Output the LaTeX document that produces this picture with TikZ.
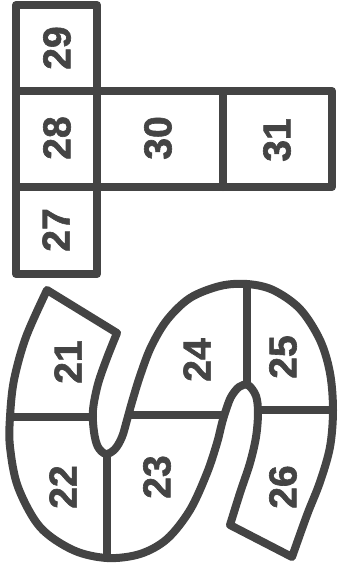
\documentclass[tikz,border=0pt]{standalone}
\usepackage{fontspec}
\usepackage{tikz}
\newfontfamily\hopfont[BoldFeatures={FakeBold=1.6}]{Liberation Sans}
\definecolor{inkgray}{RGB}{68,68,68}
\begin{document}
\begin{tikzpicture}[x=1pt,y=-1pt,
    every node/.style={font=\hopfont\bfseries\fontsize{39}{39}\selectfont,text=inkgray,rotate=90},
    chalk/.style={draw=inkgray,line width=8pt,line join=round,line cap=round}]
    \useasboundingbox (0,0) rectangle (338,571);
    % squares
    \draw[chalk] (16,5) rectangle (97,274);
    \draw[chalk] (16,91) -- (97,91) (16,187) -- (97,187);
    \draw[chalk] (97,91) rectangle (332,187);
    \draw[chalk] (223,91) -- (223,187);
    \node (n29) at (57,48) {29};
    \node (n28) at (57,138) {28};
    \node (n27) at (56,230) {27};
    \node (n30) at (158,138) {30};
    \node (n31) at (277,140) {31};
    % the snake
    \draw[chalk] (47,290) -- (117,333)
      -- plot[smooth,tension=.55] coordinates {(117,333) (107,358) (98,384) (93,410) (94,432) (98,447) (106,454) (115,449) (122,437) (127,420) (132,402) (140,376) (151,347) (167,320) (190,298) (220,286) (247,284) (273,290) (300,309) (320,340) (330,373) (333,410) (330,447) (320,482) (307,515) (292,557)}
      -- (230,525)
      -- plot[smooth,tension=.55] coordinates {(230,525) (240,493) (250,463) (256,437) (258,413) (256,396) (248,385) (239,387) (231,397) (226,410) (222,423) (217,443) (207,473) (190,510) (167,539) (140,554) (107,558) (73,550) (40,527) (18,487) (10,447) (10,417) (14,380) (26,337) (47,290)}
      -- cycle;
    \draw[chalk] (10,417) -- (93,417);
    \draw[chalk] (107,455) -- (107,558);
    \draw[chalk] (130,415) -- (223,415);
    \draw[chalk] (247,284) -- (247,385);
    \draw[chalk] (258,410) -- (333,410);
    \node (n21) at (68,362) {21};
    \node (n22) at (63,487) {22};
    \node (n23) at (157,477) {23};
    \node (n24) at (197,360) {24};
    \node (n25) at (283,357) {25};
    \node (n26) at (283,487) {26};
\end{tikzpicture}
\end{document}
